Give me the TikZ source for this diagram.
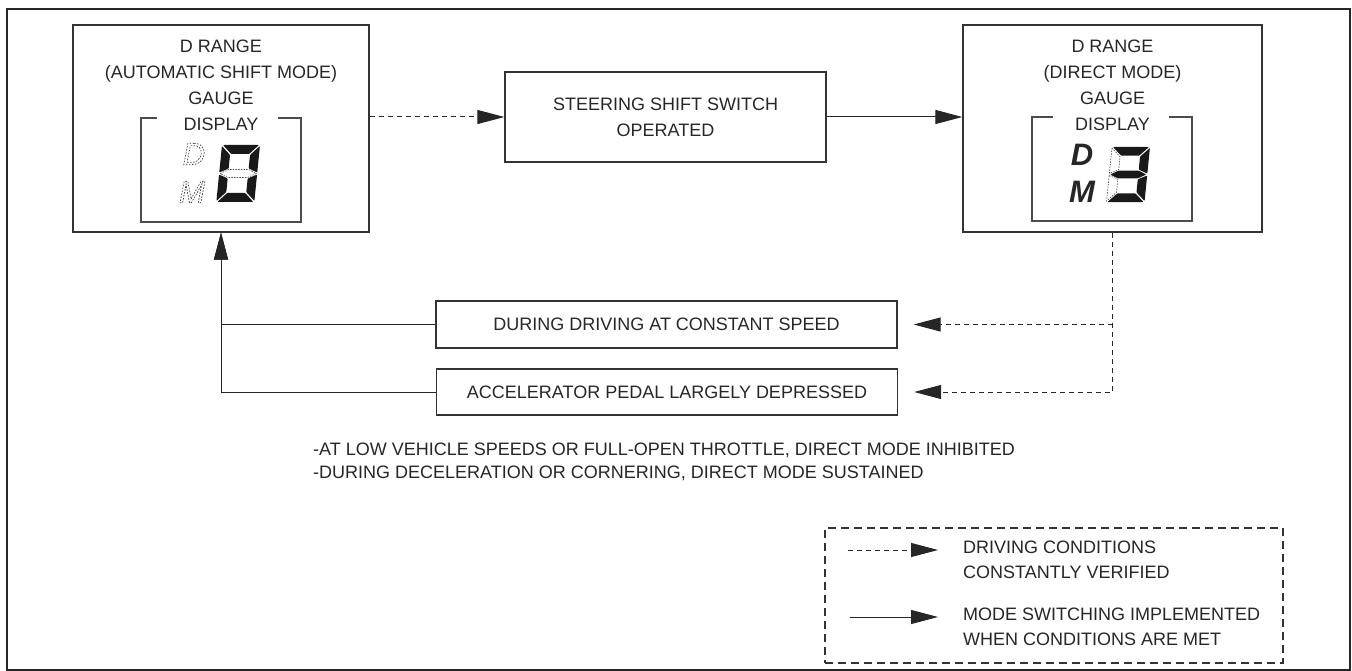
\documentclass[tikz,border=0pt]{standalone}
\usepackage{fontspec}
\newfontfamily\diagfont{Liberation Sans}
\usetikzlibrary{arrows.meta,positioning}

% dashed outline letters (unlit gauge symbols)
\newcommand\ghostglyph[1]{\special{pdf:literal direct 1 Tr 0.7 w [1.6 1.4] 0 d}#1\special{pdf:literal direct 0 Tr [] 0 d}}

\begin{document}
\begin{tikzpicture}[
  x=1pt, y=-1pt,
  font=\diagfont\fontsize{18}{26}\selectfont,
  every node/.style={text=black!85},
  box/.style={draw=black!80, line width=1.3pt, inner sep=0pt, align=center},
  modebox/.style={box, minimum width=296pt, minimum height=207pt},
  condbox/.style={box, minimum width=461pt, minimum height=47pt},
  txt/.style={inner sep=0pt, align=center},
  display/.style={draw=black!70, line width=1.2pt},
  arrow/.style={-{Triangle[length=27pt,width=14pt]}, line width=1pt, draw=black!85},
  dasharrow/.style={arrow, dash pattern=on 5pt off 4pt},
  legendbox/.style={draw=black!80, line width=1.1pt, dash pattern=on 8pt off 5pt},
  seg/.style={fill=black!90, rounded corners=0.8pt},
  ghostseg/.style={draw=black!70, line width=0.6pt, dash pattern=on 1.5pt off 1.2pt},
  bigletter/.style={inner sep=0pt, font=\diagfont\bfseries\itshape\fontsize{31}{31}\selectfont},
  ghostletter/.style={inner sep=0pt, text=black!75, font=\diagfont\itshape\fontsize{31}{31}\selectfont}
]
\useasboundingbox (0,0) rectangle (1352,671);
\draw[black!85, line width=1.5pt] (7,9) rectangle (1350,670);

% mode boxes
\node[modebox] (auto) at (221,128.5) {};
\node[box, minimum width=321pt, minimum height=90pt] (switch) at (665.5,117) {STEERING SHIFT SWITCH\\OPERATED};
\node[modebox, minimum width=299pt] (direct) at (1112.5,128.5) {};

\node[txt, below=15pt of auto.north] (autotext) {D RANGE\\(AUTOMATIC SHIFT MODE)\\GAUGE\\DISPLAY};
\node[txt, below=15pt of direct.north] (directtext) {D RANGE\\(DIRECT MODE)\\GAUGE\\DISPLAY};

% gauge displays
\draw[display] (157,118) -- (141,118) -- (141,222) -- (301,222) -- (301,118) -- (278,118);
\draw[display] (1053,117) -- (1032,117) -- (1032,221) -- (1192,221) -- (1192,117) -- (1169,117);

\node[ghostletter] (autoD) at (194,154) {\ghostglyph{D}};
\node[ghostletter] (autoM) at (192,192) {\ghostglyph{M}};
\node[bigletter] (directD) at (1082,155) {D};
\node[bigletter] (directM) at (1082,192) {M};

\begin{scope}[shift={(222,145)}, xslant=0.1]
  \fill[seg] (1,0) -- (37,0) -- (28,9) -- (10,9) -- cycle;
  \fill[seg] (0,1) -- (9,10) -- (9,23.5) -- (0,27.5) -- cycle;
  \fill[seg] (38,1) -- (38,27.5) -- (29,23.5) -- (29,10) -- cycle;
  \draw[ghostseg] (1,28.5) -- (9,24.5) -- (29,24.5) -- (37,28.5) -- (29,32.5) -- (9,32.5) -- cycle;
  \fill[seg] (0,29.5) -- (9,33.5) -- (9,47) -- (0,56) -- cycle;
  \fill[seg] (38,29.5) -- (38,56) -- (29,47) -- (29,33.5) -- cycle;
  \fill[seg] (1,57) -- (10,48) -- (28,48) -- (37,57) -- cycle;
\end{scope}

\begin{scope}[shift={(1112,147)}, xslant=0.1, yscale=0.965]
  \fill[seg] (1,0) -- (37,0) -- (28,9) -- (10,9) -- cycle;
  \draw[ghostseg] (0,1) -- (9,10) -- (9,23.5) -- (0,27.5) -- cycle;
  \fill[seg] (38,1) -- (38,27.5) -- (29,23.5) -- (29,10) -- cycle;
  \fill[seg] (1,28.5) -- (9,24.5) -- (29,24.5) -- (37,28.5) -- (29,32.5) -- (9,32.5) -- cycle;
  \draw[ghostseg] (0,29.5) -- (9,33.5) -- (9,47) -- (0,56) -- cycle;
  \fill[seg] (38,29.5) -- (38,56) -- (29,47) -- (29,33.5) -- cycle;
  \fill[seg] (1,57) -- (10,48) -- (28,48) -- (37,57) -- cycle;
\end{scope}

% conditions
\node[condbox] (speed) at (666.5,324.5) {DURING DRIVING AT CONSTANT SPEED};
\node[condbox, minimum height=46pt] (pedal) at (667,392) {ACCELERATOR PEDAL LARGELY DEPRESSED};

\node[txt, align=left, anchor=north west, font=\diagfont\fontsize{18}{23}\selectfont] (notes) at (313,443)
  {-AT LOW VEHICLE SPEEDS OR FULL-OPEN THROTTLE, DIRECT MODE INHIBITED\\
   -DURING DECELERATION OR CORNERING, DIRECT MODE SUSTAINED};

\draw[dasharrow] (auto.east |- switch.west) -- (switch.west);
\draw[arrow] (switch.east) -- (switch.east -| direct.west);
\draw[dasharrow, shorten >=16pt] (direct.south) |- (pedal.east);
\draw[dasharrow, shorten >=16pt] (direct.south |- speed.east) -- (speed.east);
\draw[arrow] (speed.west) -| (auto.south);
\draw[arrow] (pedal.west) -| (auto.south);

% legend
\node[legendbox, minimum width=458pt, minimum height=135pt] (legend) at (1054,595.5) {};
\node[txt, align=left, anchor=north west, font=\diagfont\fontsize{18}{25}\selectfont] (legdash) at (963,541)
  {DRIVING CONDITIONS\\CONSTANTLY VERIFIED};
\node[txt, align=left, anchor=north west, font=\diagfont\fontsize{18}{25}\selectfont] (legsolid) at (963,608)
  {MODE SWITCHING IMPLEMENTED\\WHEN CONDITIONS ARE MET};
\coordinate (legdashA) at (848,550);
\coordinate (legdashB) at (938,550);
\coordinate (legsolidA) at (850,617);
\coordinate (legsolidB) at (938,617);
\draw[dasharrow] (legdashA) -- (legdashB);
\draw[arrow] (legsolidA) -- (legsolidB);

\end{tikzpicture}
\end{document}
